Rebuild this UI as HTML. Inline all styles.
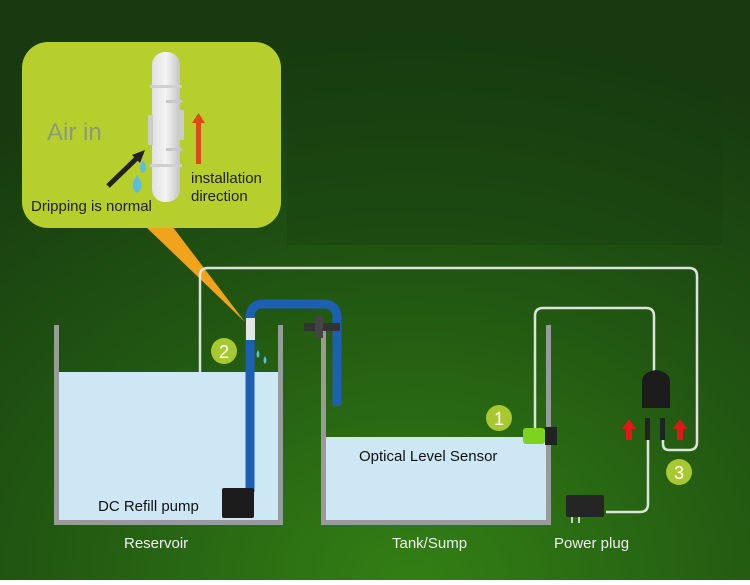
<!DOCTYPE html>
<html><head><style>html,body{margin:0;padding:0;}body{width:750px;height:580px;overflow:hidden;}</style></head><body>
<svg width="750" height="580" viewBox="0 0 750 580" xmlns="http://www.w3.org/2000/svg" font-family="Liberation Sans, sans-serif">
<defs>
<radialGradient id="bg" cx="0.55" cy="1" r="0.95">
<stop offset="0" stop-color="#337f14"/><stop offset="0.55" stop-color="#215612"/><stop offset="1" stop-color="#173a10"/>
</radialGradient>
<linearGradient id="cap" x1="0" x2="1"><stop offset="0" stop-color="#e0e0e0"/><stop offset="0.5" stop-color="#f4f4f4"/><stop offset="1" stop-color="#c4c4c4"/></linearGradient>
</defs>
<rect width="750" height="580" fill="url(#bg)"/>
<rect x="287" y="30" width="435" height="215" fill="#163a10" opacity="0.3"/>
<polygon points="145,226 172,226 245,322" fill="#f2a31c"/>
<rect x="22" y="42" width="259" height="186" rx="26" fill="#b6cf2c"/>
<rect x="152" y="52" width="28" height="150" rx="13" fill="url(#cap)"/>
<rect x="150" y="85" width="32" height="3" fill="#d0d0d0"/>
<rect x="150" y="164" width="32" height="3" fill="#d0d0d0"/>
<rect x="166" y="100" width="16" height="3" fill="#c8c8c8"/>
<rect x="166" y="148" width="16" height="3" fill="#c8c8c8"/>
<rect x="148" y="115" width="5" height="30" fill="#ccc"/>
<rect x="179" y="110" width="5" height="30" fill="#ccc"/>
<text x="47" y="140" font-size="24" fill="#8c9a78">Air in</text>
<line x1="108" y1="186" x2="138" y2="157" stroke="#222" stroke-width="5"/>
<polygon points="145,150 132,155 140,163" fill="#222"/>
<path d="M143,160 q6,9 0,13 q-6,-4 0,-13z" fill="#5bbde0"/>
<path d="M137,175 q9,12 0,18 q-9,-6 0,-18z" fill="#5bbde0"/>
<rect x="196" y="122" width="5" height="42" fill="#e04a1a"/>
<polygon points="192,123 198.5,113 205,123" fill="#e04a1a"/>
<text x="191" y="183" font-size="15" fill="#222">installation</text>
<text x="191" y="201" font-size="15" fill="#222">direction</text>
<text x="31" y="211" font-size="15" fill="#222">Dripping is normal</text>
<path d="M200,492 V276 q0,-8 8,-8 H689 q8,0 8,8 V442 q0,8 -8,8 H669 q-6,0 -6,-6 V420" fill="none" stroke="#dde2dc" stroke-width="2.5"/>
<path d="M535,428 V316 q0,-8 8,-8 H646 q8,0 8,8 V372" fill="none" stroke="#dde2dc" stroke-width="2.5"/>
<path d="M606,512 H640 q8,0 8,-8 V420" fill="none" stroke="#dde2dc" stroke-width="2.5"/>
<rect x="58" y="372" width="220" height="148" fill="#cde7f5"/>
<rect x="54" y="325" width="5" height="200" fill="#9a9a9a"/>
<rect x="278" y="325" width="5" height="200" fill="#9a9a9a"/>
<rect x="54" y="520" width="229" height="5" fill="#9a9a9a"/>
<rect x="325" y="437" width="222" height="83" fill="#cde7f5"/>
<rect x="321" y="325" width="5" height="200" fill="#9a9a9a"/>
<rect x="546" y="325" width="5" height="200" fill="#9a9a9a"/>
<rect x="321" y="520" width="230" height="5" fill="#9a9a9a"/>
<path d="M250,492 V318 q0,-14 14,-14 H323 q14,0 14,14 V406" fill="none" stroke="#1d5fb2" stroke-width="9"/>
<rect x="246" y="318" width="9" height="22" fill="#e4e4e4"/>
<path d="M258,350 q3,5 0,8 q-3,-3 0,-8z M265,356 q3,5 0,8 q-3,-3 0,-8z" fill="#5bbde0"/>
<rect x="304" y="323" width="36" height="8" fill="#333"/>
<rect x="315" y="316" width="8" height="22" fill="#444"/>
<rect x="222" y="488" width="32" height="30" rx="2" fill="#1c1c1c"/>
<rect x="523" y="428" width="22" height="16" rx="3" fill="#7ed321"/>
<rect x="545" y="427" width="12" height="18" fill="#222"/>
<path d="M642,408 V382 q0,-10 14,-12 q14,2 14,12 V408z" fill="#1c1c1c"/>
<rect x="645" y="418" width="5" height="22" fill="#222"/>
<rect x="660" y="418" width="5" height="22" fill="#222"/>
<rect x="626" y="428" width="6" height="12" fill="#e01818"/><polygon points="622,429 629,419 636,429" fill="#e01818"/>
<rect x="677" y="428" width="6" height="12" fill="#e01818"/><polygon points="673,429 680,419 687,429" fill="#e01818"/>
<rect x="566" y="495" width="38" height="22" rx="2" fill="#252525"/>
<rect x="571" y="517" width="2" height="6" fill="#ccc"/><rect x="578" y="517" width="2" height="6" fill="#ccc"/>
<circle cx="224" cy="351" r="13" fill="#a8c832"/><text x="224" y="358" font-size="18" fill="#fff" text-anchor="middle">2</text>
<circle cx="499" cy="418" r="13" fill="#a8c832"/><text x="499" y="425" font-size="18" fill="#fff" text-anchor="middle">1</text>
<circle cx="679" cy="472" r="13" fill="#a8c832"/><text x="679" y="479" font-size="18" fill="#fff" text-anchor="middle">3</text>
<text x="98" y="511" font-size="15" fill="#111">DC Refill pump</text>
<text x="359" y="461" font-size="15" fill="#111">Optical Level Sensor</text>
<text x="124" y="548" font-size="15" fill="#eee">Reservoir</text>
<text x="392" y="548" font-size="15" fill="#eee">Tank/Sump</text>
<text x="554" y="548" font-size="15" fill="#eee">Power plug</text>
</svg>
</body></html>
